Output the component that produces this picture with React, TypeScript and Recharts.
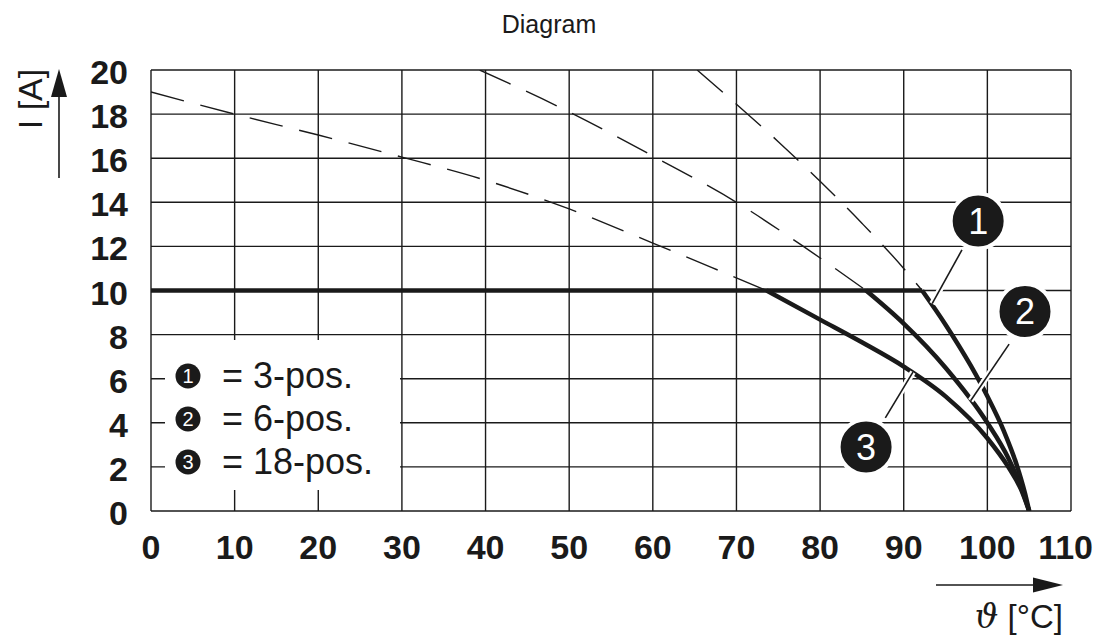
import React from 'react';
import {
  LineChart,
  Line,
  XAxis,
  YAxis,
  CartesianGrid,
  ReferenceDot,
  ReferenceLine,
  Label,
} from 'recharts';

const FONT = '"Liberation Sans", Arial, Helvetica, sans-serif';
const INK = '#1a1a1a';

const xTicks = [0, 10, 20, 30, 40, 50, 60, 70, 80, 90, 100, 110];
const yTicks = [0, 2, 4, 6, 8, 10, 12, 14, 16, 18, 20];

// constant rated current (shared by all three)
const ratedLine = [
  { x: 0, y: 10 },
  { x: 92.2, y: 10 },
];

// dashed extensions above 10 A
const dashed1 = [
  { x: 65.3, y: 20 },
  { x: 70, y: 18.45 },
  { x: 75, y: 16.75 },
  { x: 80, y: 14.95 },
  { x: 85, y: 13.05 },
  { x: 90, y: 11.0 },
  { x: 92.2, y: 10 },
];
const dashed2 = [
  { x: 39.3, y: 20 },
  { x: 50, y: 18.1 },
  { x: 60, y: 16.1 },
  { x: 70, y: 14.0 },
  { x: 78, y: 12.0 },
  { x: 85.5, y: 10 },
];
const dashed3 = [
  { x: 0, y: 19 },
  { x: 10, y: 18 },
  { x: 20, y: 17.05 },
  { x: 30, y: 16.05 },
  { x: 40, y: 15 },
  { x: 50, y: 13.7 },
  { x: 60, y: 12.15 },
  { x: 67, y: 11.05 },
  { x: 73.6, y: 10 },
];

// solid derating curves
const solid1 = [
  { x: 92.2, y: 10 },
  { x: 95, y: 8.45 },
  { x: 98, y: 6.6 },
  { x: 100, y: 5.2 },
  { x: 102, y: 3.6 },
  { x: 103.5, y: 2.1 },
  { x: 104.5, y: 0.8 },
  { x: 105, y: 0 },
];
const solid2 = [
  { x: 85.5, y: 10 },
  { x: 90, y: 8.5 },
  { x: 95, y: 6.5 },
  { x: 100, y: 4.0 },
  { x: 102.5, y: 2.4 },
  { x: 104, y: 1.1 },
  { x: 105, y: 0 },
];
const solid3 = [
  { x: 73.6, y: 10 },
  { x: 80, y: 8.68 },
  { x: 85, y: 7.65 },
  { x: 90, y: 6.55 },
  { x: 95, y: 5.2 },
  { x: 100, y: 3.3 },
  { x: 102.5, y: 2.0 },
  { x: 104, y: 1.0 },
  { x: 105, y: 0 },
];

// callout markers
const callouts = [
  { label: '1', x: 98.9, y: 13.15 },
  { label: '2', x: 104.5, y: 9.05 },
  { label: '3', x: 85.5, y: 2.9 },
];
const leaders = [
  [{ x: 96.96, y: 11.84 }, { x: 93.4, y: 9.4 }],
  [{ x: 102.6, y: 7.57 }, { x: 98.0, y: 5.0 }],
  [{ x: 87.8, y: 4.22 }, { x: 91.1, y: 6.3 }],
];

const legendItems = [
  { num: '1', text: '= 3-pos.' },
  { num: '2', text: '= 6-pos.' },
  { num: '3', text: '= 18-pos.' },
];

const XTick = (p: any) => {
  const v = p.payload.value;
  const last = v === 110;
  return (
    <text
      x={last ? 1093 : p.x}
      y={p.y + 48}
      textAnchor={last ? 'end' : 'middle'}
      fontFamily={FONT}
      fontWeight={700}
      fontSize={34}
      fill={INK}
    >
      {v}
    </text>
  );
};

const YTick = (p: any) => (
  <text
    x={p.x - 23}
    y={p.y + 14}
    textAnchor="end"
    fontFamily={FONT}
    fontWeight={700}
    fontSize={34}
    fill={INK}
  >
    {p.payload.value}
  </text>
);

export default function App() {
  return (
    <div style={{ position: 'absolute', left: 0, top: 0, width: 1095, height: 636, background: '#fff' }}>
      <LineChart
        width={1095}
        height={636}
        margin={{ top: 70, right: 24, bottom: 65, left: 91 }}
      >
        <CartesianGrid stroke={INK} strokeWidth={1.4} />
        <XAxis
          dataKey="x"
          type="number"
          domain={[0, 110]}
          ticks={xTicks}
          allowDataOverflow
          axisLine={false}
          tickLine={false}
          tickSize={0}
          tickMargin={0}
          height={60}
          tick={XTick}
          interval={0}
        />
        <YAxis
          dataKey="y"
          type="number"
          domain={[0, 20]}
          ticks={yTicks}
          allowDataOverflow
          axisLine={false}
          tickLine={false}
          tickSize={0}
          tickMargin={0}
          width={60}
          tick={YTick}
          interval={0}
        />
        <Line data={dashed1} dataKey="y" type="monotone" stroke={INK} strokeWidth={1.4} strokeDasharray="34 17" dot={false} isAnimationActive={false} />
        <Line data={dashed2} dataKey="y" type="monotone" stroke={INK} strokeWidth={1.4} strokeDasharray="34 17" dot={false} isAnimationActive={false} />
        <Line data={dashed3} dataKey="y" type="monotone" stroke={INK} strokeWidth={1.4} strokeDasharray="34 17" dot={false} isAnimationActive={false} />
        <Line data={ratedLine} dataKey="y" type="linear" stroke={INK} strokeWidth={4.5} dot={false} isAnimationActive={false} />
        <Line data={solid1} dataKey="y" type="monotone" stroke={INK} strokeWidth={4.5} dot={false} isAnimationActive={false} />
        <Line data={solid2} dataKey="y" type="monotone" stroke={INK} strokeWidth={4.5} dot={false} isAnimationActive={false} />
        <Line data={solid3} dataKey="y" type="monotone" stroke={INK} strokeWidth={4.5} dot={false} isAnimationActive={false} />
        {leaders.map((seg, i) => (
          <ReferenceLine key={'lw' + i} segment={seg} stroke="#fff" strokeWidth={6} ifOverflow="visible" />
        ))}
        {leaders.map((seg, i) => (
          <ReferenceLine key={'lb' + i} segment={seg} stroke={INK} strokeWidth={1.6} ifOverflow="visible" />
        ))}
        {callouts.map((c) => (
          <ReferenceDot
            key={'c' + c.label}
            x={c.x}
            y={c.y}
            r={27.5}
            fill={INK}
            stroke="#fff"
            strokeWidth={4}
            ifOverflow="visible"
          >
            <Label value={c.label} position="center" fill="#fff" fontSize={36} fontFamily={FONT} />
          </ReferenceDot>
        ))}
      </LineChart>
      <svg
        width={1095}
        height={636}
        style={{ position: 'absolute', left: 0, top: 0, pointerEvents: 'none' }}
      >
        <text x={549} y={33} textAnchor="middle" fontFamily={FONT} fontSize={25} fill={INK}>
          Diagram
        </text>
        {/* y axis label and arrow */}
        <text
          transform="translate(42,99) rotate(-90)"
          textAnchor="middle"
          fontFamily={FONT}
          fontSize={34}
          fill={INK}
        >
          I [A]
        </text>
        <line x1={59} y1={178} x2={59} y2={92} stroke={INK} strokeWidth={1.6} />
        <polygon points="59,69 51,97 67,97" fill={INK} />
        {/* x axis label and arrow */}
        <line x1={936} y1={585} x2={1038} y2={585} stroke={INK} strokeWidth={1.6} />
        <polygon points="1063,585 1033,577.5 1033,592.5" fill={INK} />
        <text x={1063} y={628} textAnchor="end" fontFamily={FONT} fontSize={33} fill={INK}>
          <tspan fontFamily='"DejaVu Serif", serif' fontStyle="italic">ϑ</tspan>
          <tspan> [°C]</tspan>
        </text>
        {/* legend */}
        <rect x={165} y={340} width={235} height={150} fill="#fff" />
        {legendItems.map((it, i) => (
          <g key={it.num}>
            <circle cx={188} cy={376 + i * 43} r={12.5} fill={INK} />
            <text
              x={188}
              y={376 + i * 43 + 7}
              textAnchor="middle"
              fontFamily={FONT}
              fontSize={20}
              fill="#fff"
            >
              {it.num}
            </text>
            <text x={222} y={376 + i * 43 + 12} fontFamily={FONT} fontSize={36} fill={INK}>
              {it.text}
            </text>
          </g>
        ))}
      </svg>
    </div>
  );
}
